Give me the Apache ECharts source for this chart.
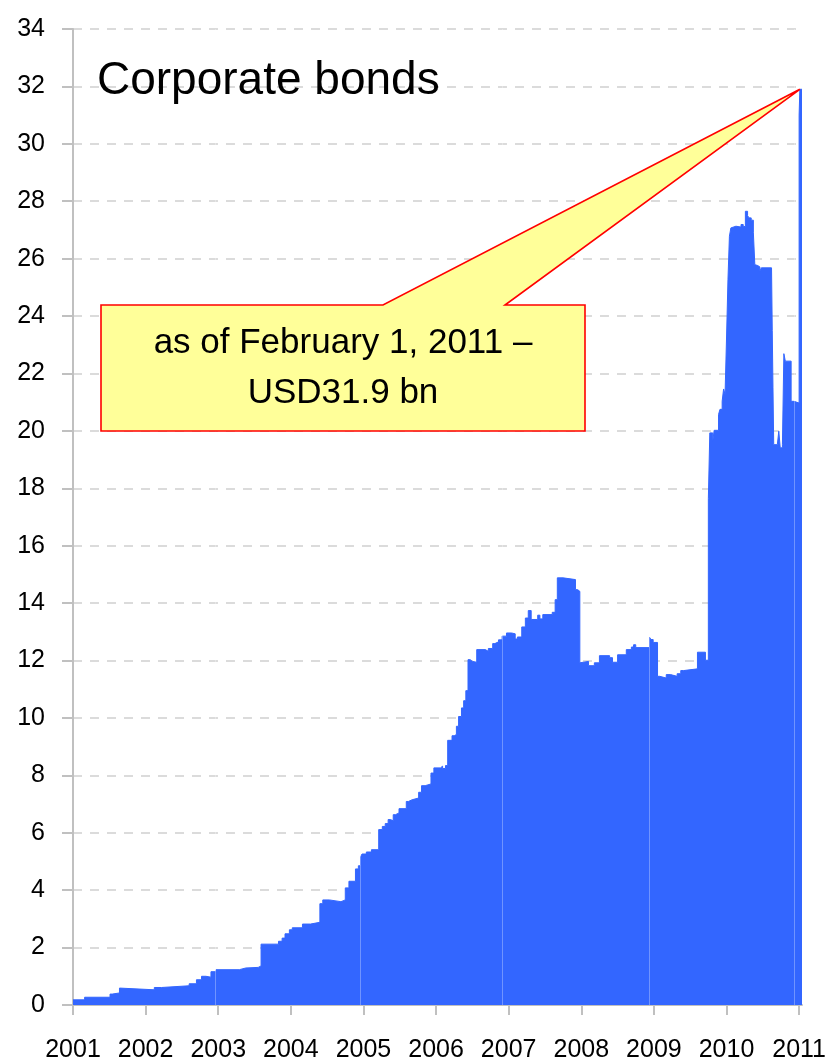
<!DOCTYPE html>
<html><head><meta charset="utf-8">
<script src="https://cdn.jsdelivr.net/npm/echarts@6.0.0/dist/echarts.min.js"></script>
<style>html,body{margin:0;padding:0;background:#fff}#c{width:829px;height:1064px}</style>
</head><body><div id="c"></div>
<script>
// ---- data ----
const years = [
  2001.00,2001.16,2001.51,2001.54,2001.64,2001.66,2002.12,2002.22,2002.60,2002.70,
  2002.77,2002.83,2002.90,2002.97,2003.29,2003.38,2003.55,2003.59,2003.83,2003.88,
  2003.92,2003.98,2004.02,2004.16,2004.27,2004.40,2004.44,2004.53,2004.69,2004.75,
  2004.80,2004.89,2004.93,2004.96,2004.98,2005.04,2005.11,2005.21,2005.26,2005.30,
  2005.34,2005.37,2005.41,2005.44,2005.49,2005.59,2005.62,2005.67,2005.76,2005.80,
  2005.85,2005.93,2005.97,2006.06,2006.09,2006.13,2006.16,2006.22,2006.25,2006.28,
  2006.31,2006.35,2006.38,2006.41,2006.44,2006.47,2006.50,2006.56,2006.68,2006.72,
  2006.78,2006.81,2006.86,2006.91,2006.97,2007.04,2007.09,2007.12,2007.18,2007.23,
  2007.27,2007.31,2007.40,2007.43,2007.47,2007.60,2007.64,2007.67,2007.75,2007.92,
  2007.95,2007.98,2008.00,2008.10,2008.18,2008.25,2008.39,2008.43,2008.50,2008.62,
  2008.69,2008.72,2008.75,2008.94,2008.96,2008.99,2009.05,2009.08,2009.17,2009.23,
  2009.32,2009.37,2009.41,2009.60,2009.71,2009.75,2009.77,2009.81,2009.83,2009.89,
  2009.91,2009.94,2009.96,2009.98,2010.00,2010.02,2010.04,2010.06,2010.08,2010.13,
  2010.20,2010.23,2010.26,2010.29,2010.31,2010.34,2010.37,2010.39,2010.41,2010.43,
  2010.46,2010.48,2010.62,2010.63,2010.64,2010.65,2010.70,2010.72,2010.74,2010.77,
  2010.79,2010.81,2010.89,2010.93,2011.00,2011.01,2011.04
];
const values = [
  0.18,0.27,0.38,0.42,0.59,0.53,0.61,0.67,0.74,0.88,
  1.00,0.97,1.16,1.23,1.29,1.31,1.36,2.12,2.22,2.33,
  2.48,2.62,2.69,2.82,2.88,3.53,3.66,3.60,3.66,4.08,
  4.31,4.74,4.85,5.16,5.26,5.33,5.41,6.11,6.22,6.32,
  6.46,6.42,6.63,6.69,6.84,7.09,7.15,7.21,7.41,7.64,
  7.70,8.08,8.26,8.32,8.24,8.34,9.22,9.38,9.42,9.71,
  10.05,10.35,10.60,10.95,12.03,11.97,11.94,12.38,12.32,12.42,
  12.59,12.65,12.72,12.85,12.96,12.93,12.75,12.82,13.17,13.48,
  13.74,13.43,13.58,13.45,13.60,13.68,14.12,14.88,14.82,14.47,
  14.41,11.92,11.97,11.82,11.92,12.17,12.10,11.94,12.20,12.38,
  12.47,12.55,12.45,12.81,12.73,12.63,11.45,11.39,11.51,11.45,
  11.54,11.65,11.71,12.29,12.01,17.64,19.93,19.64,20.02,20.57,
  20.75,21.03,21.46,21.27,23.20,25.26,26.78,27.07,27.13,27.10,
  27.19,27.12,27.65,27.50,27.42,27.34,26.90,25.79,25.76,25.71,
  25.56,25.68,25.68,23.50,21.50,19.52,19.58,19.99,19.41,19.52,
  22.69,22.43,21.03,20.97,31.00,31.90,31.90
];
const xTickYears = [2001,2002,2003,2004,2005,2006,2007,2008,2009,2010,2011];
const seamYears = [2002.96, 2004.96, 2006.91, 2008.94, 2010.93];
const titleText = 'Corporate bonds';
const calloutLines = ['as of February 1, 2011 \u2013', 'USD31.9 bn'];
const calloutIndex = 155; // point the callout refers to (31.9 on Feb 1, 2011)

// ---- chart ----
const FONT = '"Liberation Sans", Arial, sans-serif';
const chart = echarts.init(document.getElementById('c'), null, {renderer: 'canvas'});
const seriesData = years.map((y, i) => [y, values[i]]);

chart.setOption({
  animation: false,
  backgroundColor: '#ffffff',
  grid: {left: 73, right: 24, top: 29, bottom: 59, containLabel: false},
  xAxis: {
    type: 'value',
    min: xTickYears[0],
    max: years[years.length - 1],
    interval: 1,
    axisLine: {show: true, lineStyle: {color: '#c0c0c0', width: 2}},
    axisTick: {show: true, length: 10, inside: false, customValues: xTickYears,
      lineStyle: {color: '#c0c0c0', width: 2}},
    axisLabel: {customValues: xTickYears, margin: 33, color: '#000',
      fontFamily: FONT, fontSize: 25, formatter: v => String(v)},
    splitLine: {show: false}
  },
  yAxis: {
    type: 'value',
    min: 0, max: 34, interval: 2,
    axisLine: {show: true, lineStyle: {color: '#c0c0c0', width: 2}},
    axisTick: {show: true, length: 11, inside: false, lineStyle: {color: '#c0c0c0', width: 2}},
    axisLabel: {margin: 28, color: '#000', fontFamily: FONT, fontSize: 25},
    splitLine: {show: true, lineStyle: {color: '#d0d0d0', width: 1.5, type: [9, 8]}}
  },
  series: [{
    type: 'line',
    data: seriesData,
    step: 'end',
    showSymbol: false,
    symbol: 'none',
    lineStyle: {color: '#3366ff', width: 1},
    areaStyle: {color: '#3366ff', opacity: 1},
    z: 2,
    markLine: {
      silent: true, symbol: 'none', label: {show: false},
      lineStyle: {color: 'rgba(255,255,255,0.3)', width: 1, type: 'solid'},
      data: seamYears.map(v => ({xAxis: v}))
    }
  }]
});

const tip = chart.convertToPixel({gridIndex: 0}, [years[calloutIndex], values[calloutIndex]]);
const box = {x1: 101, y1: 305, x2: 585, y2: 431, baseL: 383, baseR: 505};

chart.setOption({
  graphic: [
    {
      type: 'text', left: 97, top: 58, z: 10,
      style: {text: titleText, fill: '#000', font: '46px ' + FONT}
    },
    {
      type: 'polygon', z: 20,
      shape: {points: [
        [box.x1, box.y1], [box.baseL, box.y1], [tip[0], tip[1]], [box.baseR, box.y1],
        [box.x2, box.y1], [box.x2, box.y2], [box.x1, box.y2]
      ]},
      style: {fill: '#ffff99', stroke: '#ff0000', lineWidth: 1.6, lineJoin: 'miter'}
    },
    {
      type: 'text', z: 21,
      x: (box.x1 + box.x2) / 2, y: (box.y1 + box.y2) / 2,
      style: {text: calloutLines.join('\n'), fill: '#000', font: '35px ' + FONT,
        align: 'center', verticalAlign: 'middle', lineHeight: 50}
    }
  ]
});
</script>
</body></html>
